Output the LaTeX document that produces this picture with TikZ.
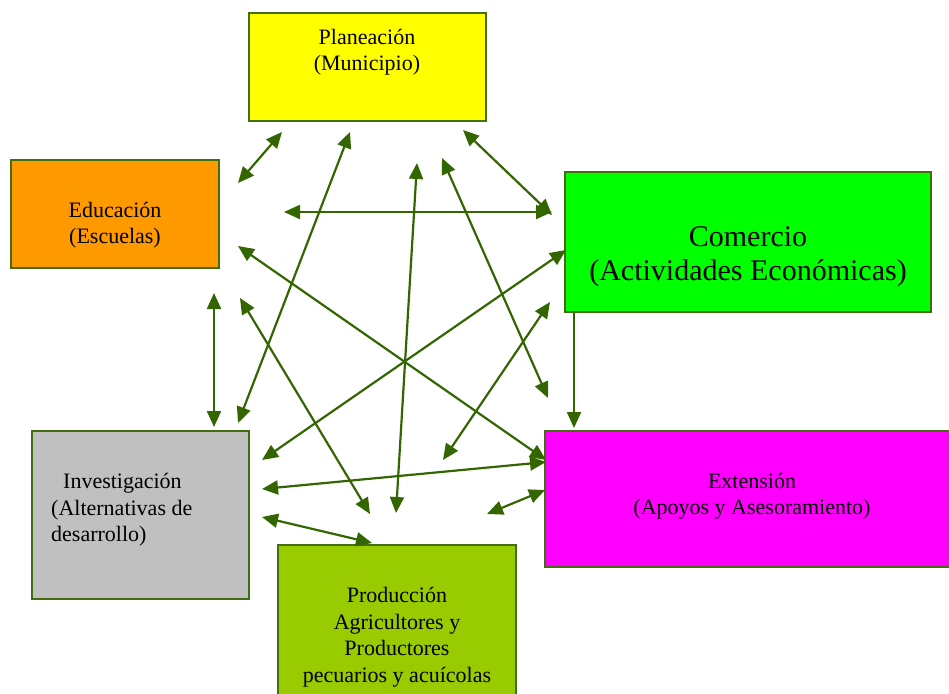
\documentclass[tikz,border=0pt]{standalone}
\usepackage{fontspec}
\setmainfont{Liberation Serif}
\usetikzlibrary{arrows.meta}
\definecolor{arr}{RGB}{51,102,0}
\definecolor{bord}{RGB}{66,110,16}
\definecolor{cyel}{RGB}{255,255,0}
\definecolor{corg}{RGB}{255,153,0}
\definecolor{cgrn}{RGB}{0,255,0}
\definecolor{cgry}{RGB}{192,192,192}
\definecolor{cmag}{RGB}{255,0,255}
\definecolor{clim}{RGB}{153,204,0}
\begin{document}
\begin{tikzpicture}[x=1pt,y=-1pt,
  box/.style={draw=bord,line width=2pt,inner sep=0pt},
  lbl/.style={font=\fontsize{22}{26.5}\selectfont,align=center,inner sep=0pt},
  big/.style={font=\fontsize{30}{34}\selectfont,align=center,inner sep=0pt},
  link/.style={draw=arr,line width=2.2pt,{Triangle[length=16pt,width=14pt]}-{Triangle[length=16pt,width=14pt]}},
  one/.style={draw=arr,line width=2.2pt,-{Triangle[length=16pt,width=14pt]}}]
\useasboundingbox (0,0) rectangle (949,693);

% boxes
\node[box,fill=cyel,minimum width=237pt,minimum height=108pt] (plan) at (367.5,67) {};
\node[box,fill=corg,minimum width=208pt,minimum height=108pt] (edu) at (115,214) {};
\node[box,fill=cgrn,minimum width=366pt,minimum height=140pt] (com) at (748,242) {};
\node[box,fill=cgry,minimum width=217pt,minimum height=168pt] (inv) at (140.5,515) {};
\node[box,fill=clim,minimum width=238pt,minimum height=160pt] (prod) at (397,625) {};
\node[box,fill=cmag,minimum width=410pt,minimum height=136pt] (ext) at (750,499) {};

% labels
\node[lbl] (tplan) at (367,52) {Planeación\\(Municipio)};
\node[lbl] (tedu) at (115,225) {Educación\\(Escuelas)};
\node[big] (tcom) at (748,257) {Comercio\\(Actividades Económicas)};
\node[lbl,align=left,anchor=west] (tinv) at (51,510) {\hspace{12pt}Investigación\\(Alternativas de\\desarrollo)};
\node[lbl] (tprod) at (397,637) {Producción\\Agricultores y\\Productores\\pecuarios y acuícolas};
\node[lbl] (text) at (752,496) {Extensión\\(Apoyos y Asesoramiento)};

% connector end points
\coordinate (a1) at (282,132); \coordinate (b1) at (238,183);
\coordinate (a2) at (350,132); \coordinate (b2) at (238,423);
\coordinate (a3) at (417,163); \coordinate (b3) at (396,513);
\coordinate (a4) at (442,158); \coordinate (b4) at (548,398);
\coordinate (a5) at (463,130); \coordinate (b5) at (552,215);
\coordinate (a6) at (284,212); \coordinate (b6) at (552,212);
\coordinate (a7) at (214,293); \coordinate (b7) at (214,427);
\coordinate (a8) at (238,246); \coordinate (b8) at (546,460);
\coordinate (a9) at (240,298); \coordinate (b9) at (370,514);
\coordinate (a10) at (566,250); \coordinate (b10) at (262,460);
\coordinate (a11) at (550,302); \coordinate (b11) at (443,460);
\coordinate (a13) at (546,462); \coordinate (b13) at (262,489);
\coordinate (a14) at (545,490); \coordinate (b14) at (487,514);
\coordinate (a15) at (262,517); \coordinate (b15) at (372,543);

\draw[link] (a1) -- (b1);
\draw[link] (a2) -- (b2);
\draw[link] (a3) -- (b3);
\draw[link] (a4) -- (b4);
\draw[link] (a5) -- (b5);
\draw[link] (a6) -- (b6);
\draw[link] (a7) -- (b7);
\draw[link] (a8) -- (b8);
\draw[link] (a9) -- (b9);
\draw[link] (a10) -- (b10);
\draw[link] (a11) -- (b11);
\draw[link] (a13) -- (b13);
\draw[link] (a14) -- (b14);
\draw[link] (a15) -- (b15);
\draw[one,shorten >=2pt] ([xshift=10pt]com.south west) -- ([xshift=30pt]ext.north west);
\end{tikzpicture}
\end{document}
